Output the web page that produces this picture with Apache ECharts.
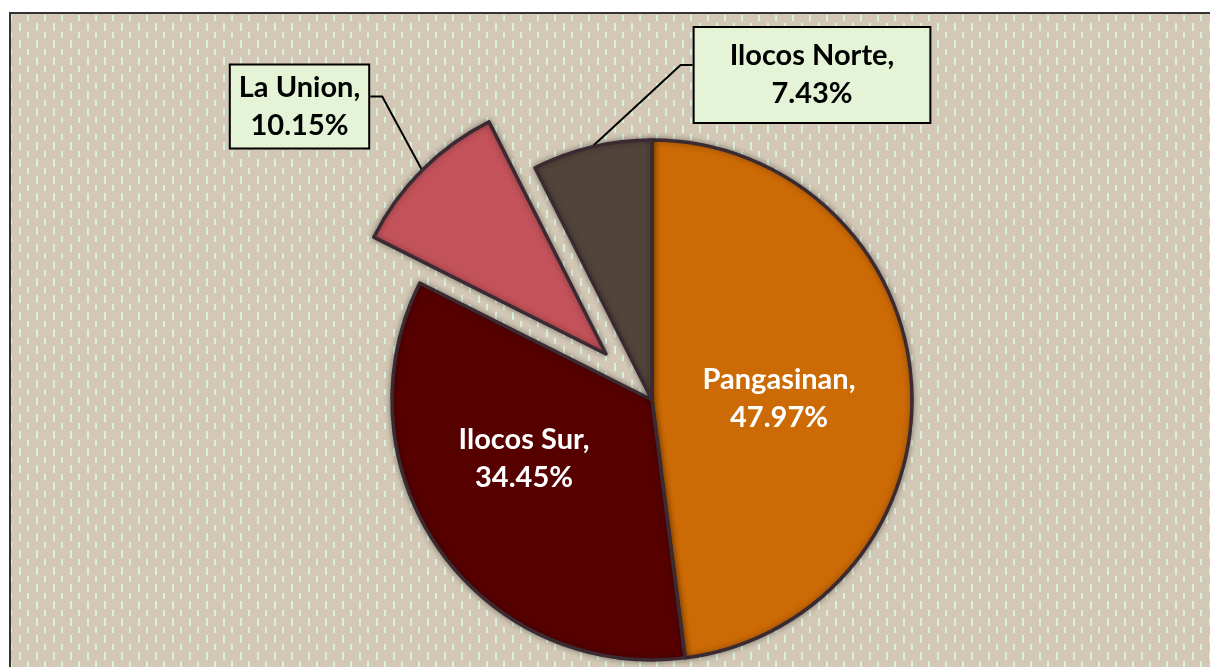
<!DOCTYPE html>
<html><head><meta charset="utf-8">
<script src="https://cdn.jsdelivr.net/npm/echarts@6/dist/echarts.min.js"></script>
<style>html,body{margin:0;padding:0;background:#fff}#c{width:1210px;height:667px}</style>
</head><body><div id="c"></div>
<script>
// ---- data ----
const categories = ['Pangasinan', 'Ilocos Sur', 'La Union', 'Ilocos Norte'];
const shares = [47.97, 34.45, 10.15, 7.43];
const explodedIndex = 2;
const outsideLabels = [2, 3];
const colors = ['#CC6A05', '#560000', '#C3525A', '#51443A'];

// ---- layout ----
const CX = 652, CY = 400, R = 260, EXPLODE = 65;
const labelPos = { 0: [779, 399], 1: [524, 459], 2: [299.5, 106.5], 3: [812, 75] };
const boxPadding = { 2: [3, 8, 3, 8], 3: [9, 35, 9, 35] };

const total = shares.reduce((a, b) => a + b, 0);
const mids = []; let acc = 0;
shares.forEach(v => { mids.push((acc + v / 2) / total * 2 * Math.PI); acc += v; });
const offX = EXPLODE * Math.sin(mids[explodedIndex]);
const offY = -EXPLODE * Math.cos(mids[explodedIndex]);

// background pattern
const tile = document.createElement('canvas');
tile.width = 17; tile.height = 17;
const g = tile.getContext('2d');
g.fillStyle = '#D2C8B5'; g.fillRect(0, 0, 17, 17);
g.fillStyle = '#D8F1DC';
g.fillRect(2, 6, 2, 8);
g.fillRect(10, 15, 2, 8); g.fillRect(10, -2, 2, 6);

const FONT = 'Lato';
function fmt(p) { return p.name + ',\n' + Number(p.value).toFixed(2) + '%'; }

function makeData(visibleFn) {
  return categories.map((name, i) => {
    const vis = visibleFn(i);
    const outside = outsideLabels.indexOf(i) >= 0;
    return {
      name, value: shares[i],
      itemStyle: vis ? { color: colors[i] } : { color: 'rgba(0,0,0,0)', borderWidth: 0, shadowBlur: 0 },
      label: vis ? (outside ? {
        show: true, position: 'outside', color: '#000',
        backgroundColor: '#E5F4D6', borderColor: '#000', borderWidth: 2,
        padding: boxPadding[i]
      } : { show: true, position: 'inside', color: '#fff' }) : { show: false },
      labelLine: { show: vis && outside }
    };
  });
}

function layoutFn(centerX, centerY) {
  return function (p) {
    const i = p.dataIndex;
    const pos = labelPos[i];
    const res = { x: pos[0], y: pos[1], align: 'center', verticalAlign: 'middle' };
    if (outsideLabels.indexOf(i) >= 0) {
      const a = mids[i];
      const anchor = [centerX + R * Math.sin(a), centerY - R * Math.cos(a)];
      const w = p.labelRect.width;
      const side = anchor[0] > pos[0] ? 1 : -1;
      const ex = pos[0] + side * w / 2;
      const ey = pos[1] - 10;
      res.labelLinePoints = [anchor, [ex + side * 12, ey], [ex, ey]];
    }
    return res;
  };
}

const common = {
  type: 'pie', radius: R, startAngle: 90, clockwise: true,
  avoidLabelOverlap: false, silent: true, animation: false,
  itemStyle: { borderColor: '#3B2A32', borderWidth: 3.5, shadowBlur: 6, shadowColor: 'rgba(0,0,0,0.35)' },
  label: { fontFamily: FONT, fontWeight: 'bold', fontSize: 29, lineHeight: 38, formatter: fmt },
  labelLine: { lineStyle: { color: '#000', width: 2 } },
  emphasis: { disabled: true }
};

const chart = echarts.init(document.getElementById('c'), null, { renderer: 'canvas' });
chart.setOption({
  backgroundColor: '#fff',
  animation: false,
  graphic: [{
    type: 'rect', z: -10,
    shape: { x: 10, y: 13, width: 1300, height: 720 },
    style: { fill: { image: tile, repeat: 'repeat' }, stroke: '#333', lineWidth: 2 }
  }],
  series: [
    Object.assign({}, common, {
      center: [CX, CY],
      data: makeData(i => i !== explodedIndex),
      labelLayout: layoutFn(CX, CY)
    }),
    Object.assign({}, common, {
      center: [CX + offX, CY + offY],
      data: makeData(i => i === explodedIndex),
      labelLayout: layoutFn(CX + offX, CY + offY)
    })
  ]
});
</script></body></html>
